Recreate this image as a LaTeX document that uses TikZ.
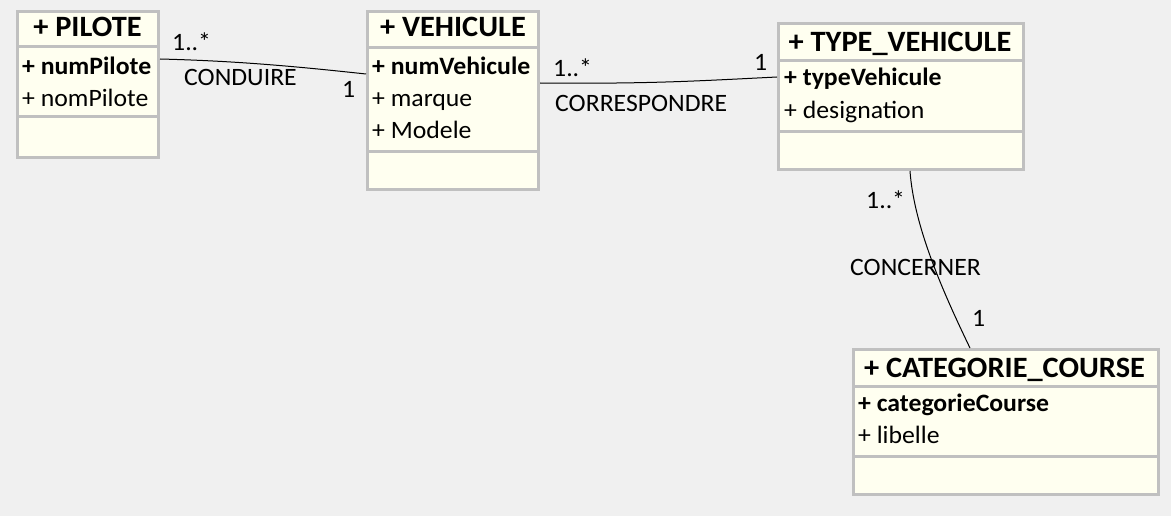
\documentclass[tikz,border=0pt]{standalone}
\usepackage{fontspec}
\setmainfont{Carlito}[FakeStretch=1.03]
\definecolor{bgc}{HTML}{F0F0F0}
\definecolor{boxfill}{HTML}{FFFFF0}
\definecolor{boxline}{HTML}{C0C0C0}
\tikzset{
  classbox/.style={draw=boxline, fill=boxfill, line width=3pt, rectangle, inner sep=0pt, anchor=north west},
  sepline/.style={draw=boxline, line width=3pt},
  titletxt/.style={font=\fontsize{29.5}{31}\selectfont\bfseries, inner sep=0pt, anchor=base},
  attrb/.style={font=\fontsize{25}{27}\selectfont\bfseries, inner sep=0pt, anchor=base west},
  attr/.style={font=\fontsize{25}{27}\selectfont, inner sep=0pt, anchor=base west},
  lbl/.style={font=\fontsize{25}{27}\selectfont, inner sep=0pt, anchor=base west},
  assoc/.style={draw=black, line width=1pt},
}
\begin{document}
\begin{tikzpicture}[x=1pt,y=-1pt]
\useasboundingbox[fill=bgc] (0,0) rectangle (1171,516);
% PILOTE
\node[classbox, minimum width=141pt, minimum height=146pt] (pilote) at (16,10) {};
\draw[sepline] (16,47) -- (157,47);
\draw[sepline] (16,117) -- (157,117);
\node[titletxt] (pt) at (87.5,37) {+ PILOTE};
\node[attrb] (pa1) at (22,75) {+ numPilote};
\node[attr] (pa2) at (22,107) {+ nomPilote};
% VEHICULE
\node[classbox, minimum width=171pt, minimum height=178pt] (vehicule) at (366,10) {};
\draw[sepline] (366,48) -- (537,48);
\draw[sepline] (366,152) -- (537,152);
\node[titletxt] (vt) at (453,37) {+ VEHICULE};
\node[attrb] (va1) at (372,75) {+ numVehicule};
\node[attr] (va2) at (372,107) {+ marque};
\node[attr] (va3) at (372,139) {+ Modele};
% TYPE_VEHICULE
\node[classbox, minimum width=245pt, minimum height=146pt] (type) at (777,22) {};
\draw[sepline] (777,61) -- (1022,61);
\draw[sepline] (777,132) -- (1022,132);
\node[titletxt] (tt) at (900,52) {+ TYPE\_VEHICULE};
\node[attrb] (ta1) at (784,86) {+ typeVehicule};
\node[attr] (ta2) at (784,119) {+ designation};
% CATEGORIE_COURSE
\node[classbox, minimum width=305pt, minimum height=145pt] (cat) at (852,348) {};
\draw[sepline] (852,386) -- (1157,386);
\draw[sepline] (852,456) -- (1157,456);
\node[titletxt] (ct) at (1004.5,377) {+ CATEGORIE\_COURSE};
\node[attrb] (ca1) at (858,411) {+ categorieCourse};
\node[attr] (ca2) at (858,443) {+ libelle};
% associations
\draw[assoc] ([yshift=-49pt]pilote.north east) .. controls +(80,2) and +(-65,-7) .. ([yshift=-64pt]vehicule.north west);
\node[lbl] (l1) at (172,51) {1..*};
\node[lbl] (l2) at (184,86) {CONDUIRE};
\node[lbl] (l3) at (342,98) {1};
\draw[assoc] ([yshift=-73pt]vehicule.north east) .. controls +(110,1) and +(-80,4) .. ([yshift=-55pt]type.north west);
\node[lbl] (l4) at (553,77) {1..*};
\node[lbl] (l5) at (555,112) {CORRESPONDRE};
\node[lbl] (l6) at (754,71) {1};
\draw[assoc] ([xshift=-115pt]type.south east) .. controls +(4,55) and +(-28,-58) .. ([xshift=118pt]cat.north west);
\node[lbl] (l7) at (866,208) {1..*};
\node[lbl] (l8) at (850,275) {CONCERNER};
\node[lbl] (l9) at (972,326) {1};
\end{tikzpicture}
\end{document}
